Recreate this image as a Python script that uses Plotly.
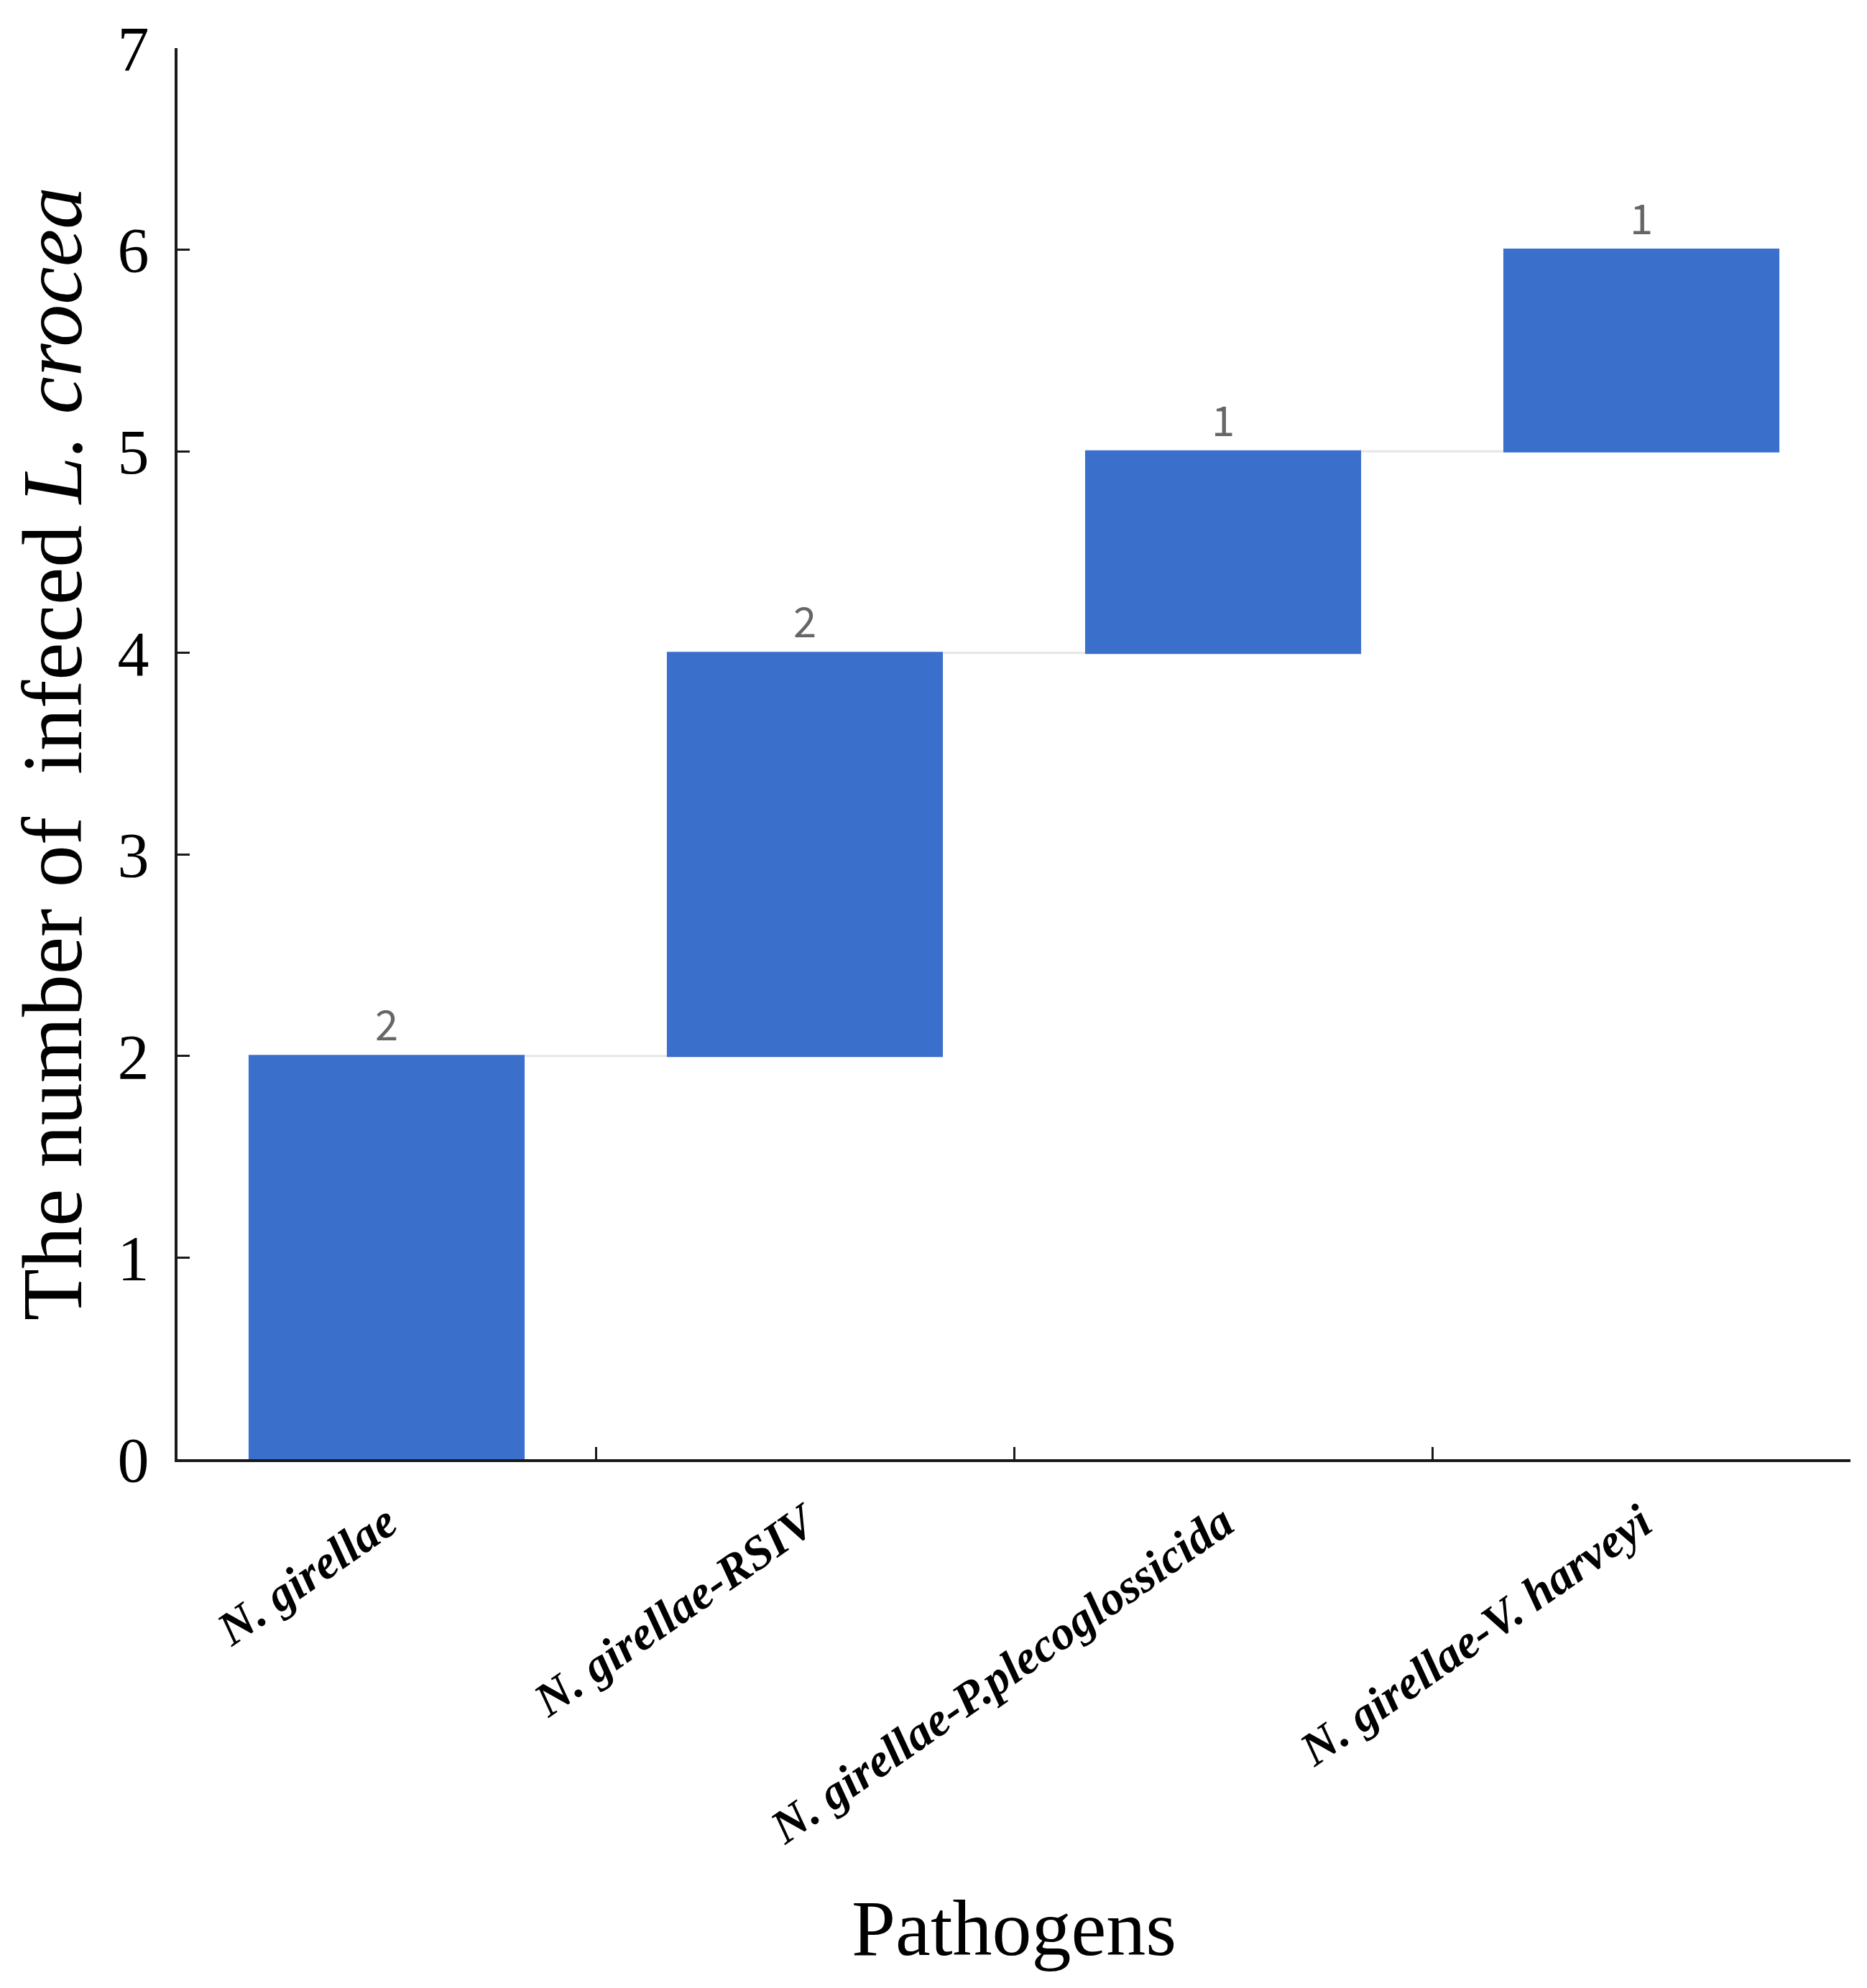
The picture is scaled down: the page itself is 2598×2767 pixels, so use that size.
import plotly.graph_objects as go

categories = ["N. girellae", "N. girellae-RSIV", "N. girellae-P.plecoglossicida", "N. girellae-V. harveyi"]
increments = [2, 2, 1, 1]
labels = ["2", "2", "1", "1"]

fig = go.Figure(go.Waterfall(
    x=categories,
    y=increments,
    measure=["relative"] * len(increments),
    text=labels,
    textposition="outside",
    textfont=dict(family="Noto Sans CJK SC", size=58, color="#666666"),
    increasing=dict(marker=dict(color="#3B6FCC", line=dict(width=0))),
    connector=dict(mode="between", line=dict(color="#e6e6e6", width=3)),
    cliponaxis=False,
    hoverinfo="skip",
))

fig.update_layout(
    width=2598, height=2767,
    margin=dict(l=239, r=31, t=48, b=744),
    paper_bgcolor="white", plot_bgcolor="white",
    waterfallgap=0.34,
    showlegend=False,
    font=dict(family="Liberation Serif", color="black"),
)

fig.update_yaxes(
    range=[0, 7], dtick=1, tick0=0,
    showline=True, linecolor="#1a1a1a", linewidth=4,
    ticks="inside", ticklen=17, tickwidth=3, tickcolor="#1a1a1a",
    showgrid=False, zeroline=False,
    tickfont=dict(family="Liberation Serif", size=88, color="black"),
    ticklabelstandoff=18,
    title=dict(text="The number of \u00a0infeced <i>L. crocea</i>",
               font=dict(family="Liberation Serif", size=118, color="black"),
               standoff=44),
)

fig.update_xaxes(
    range=[-0.5, 3.5],
    showline=True, linecolor="#1a1a1a", linewidth=4,
    ticks="inside", tickson="boundaries", ticklen=17, tickwidth=3, tickcolor="#1a1a1a",
    showgrid=False, zeroline=False,
    tickangle=-35,
    tickfont=dict(family="Liberation Serif", size=66, color="black", weight="bold", style="italic"),
    ticklabelstandoff=20,
    title=dict(text="Pathogens",
               font=dict(family="Liberation Serif", size=110, color="black"),
               standoff=66),
)

fig.write_html("out.html")
